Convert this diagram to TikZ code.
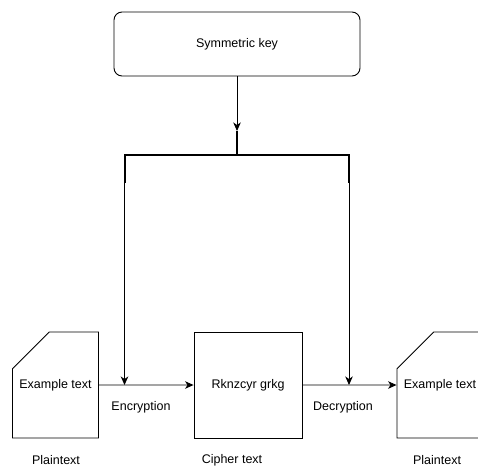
\documentclass[tikz,border=0pt]{standalone}
\usepackage{fontspec}
\setmainfont{Liberation Sans}
\usetikzlibrary{arrows.meta, positioning, shapes.misc}

\begin{document}
\begin{tikzpicture}[
		x=1pt, y=-1pt,
		every node/.style={font=\fontsize{12.5}{15}\selectfont},
		keybox/.style={rectangle, rounded corners=8pt, draw=black, minimum width=246pt, minimum height=64pt},
		textbox/.style={rectangle, draw=black, minimum width=108pt, minimum height=106pt},
		doc/.style={chamfered rectangle, chamfered rectangle corners=north west,
			chamfered rectangle xsep=32pt, chamfered rectangle ysep=31pt,
			draw=black, minimum width=86pt, minimum height=106pt, inner sep=0pt},
		split/.style={line width=2pt},
		>={Stealth[length=8.5pt, width=7.5pt, inset=2.5pt]},
		line width=0.9pt
		]
		
		\clip (0,0) rectangle (478,466);
		
		% Positions of the nodes
		\node[keybox] (key) at (237,44) {Symmetric key};
		\node[doc] (plain) at (55.5,385) {Example text};
		\node[textbox] (cipher) at (248,385) {Rknzcyr grkg};
		\node[doc] (plainout) at (440,385) {Example text};
		
		% Labels
		\node (enclabel) at (141,407) {Encryption};
		\node (declabel) at (343,407) {Decryption};
		\node (plainlabel) at (56,460) {Plaintext};
		\node (cipherlabel) at (232,460) {Cipher text};
		\node (plainoutlabel) at (437,460) {Plaintext};
		
		% Key splitter
		\coordinate (top) at (237,131);
		\coordinate (hub) at (237,155);
		\coordinate (encfork) at (124.5,155);
		\coordinate (decfork) at (349,155);
		\coordinate (encdrop) at (124.5,183);
		\coordinate (decdrop) at (349,183);
		\coordinate (enc) at (124.5,385);
		\coordinate (dec) at (349,385);
		
		\draw[->] (key) -- (top);
		\draw[split] (top) -- (hub);
		\draw[split] (encdrop) -- (encfork) -- (decfork) -- (decdrop);
		\draw[->] (encdrop) -- (enc);
		\draw[->] (decdrop) -- (dec);
		
		% Data flow
		\draw[->] (plain) -- (cipher);
		\draw[->] (cipher) -- (plainout);
		
	\end{tikzpicture}
\end{document}
